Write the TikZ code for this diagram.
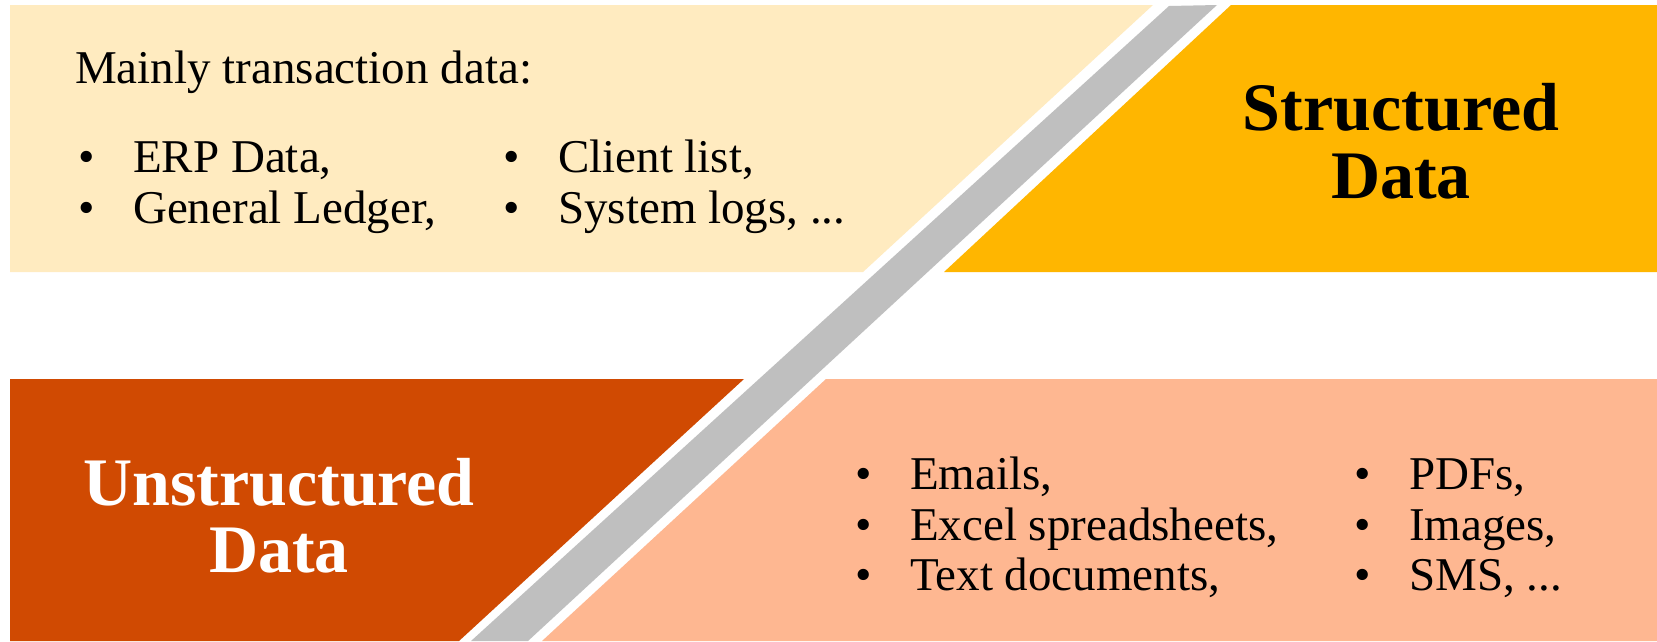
\documentclass[tikz,border=0pt]{standalone}
\usepackage{fontspec}
\setmainfont{Liberation Serif}
\definecolor{paleyellow}{HTML}{FFEBC0}
\definecolor{amber}{HTML}{FFB600}
\definecolor{rust}{HTML}{D04A02}
\definecolor{salmon}{HTML}{FEB791}
\definecolor{band}{HTML}{BFBFBF}
\tikzset{
  item/.style={anchor=base west, inner sep=0pt, font=\fontsize{47}{56}\selectfont},
  title/.style={anchor=base, inner sep=0pt, font=\fontsize{68}{80}\selectfont\bfseries}
}
\newcommand{\bul}[1]{\makebox[55pt][l]{\textbullet}#1}
\begin{document}
\begin{tikzpicture}[x=1pt,y=-1pt]
\useasboundingbox [fill=white] (0,0) rectangle (1657,641);
% upper half
\fill [paleyellow] (10,5) -- (1153,5) -- (863,272) -- (10,272) -- cycle;
\fill [amber] (1231,5) -- (1657,5) -- (1657,272) -- (944,272) -- cycle;
% lower half
\fill [rust] (10,379) -- (744,379) -- (459,641) -- (10,641) -- cycle;
\fill [salmon] (826,379) -- (1657,379) -- (1657,641) -- (542,641) -- cycle;
% diagonal divider
\fill [band] (1169,6) coordinate (b_1) -- (1217,5) coordinate (b_2)
  -- (528,641) coordinate (b_3) -- (471,641) coordinate (b_4) -- cycle;
% structured side
\node (s_head) [item] at (75,83) {Mainly transaction data:};
\node (s_1) [item] at (78,172) {\bul{ERP Data,}};
\node (s_2) [item] at (78,223) {\bul{General Ledger,}};
\node (s_3) [item] at (503,172) {\bul{Client list,}};
\node (s_4) [item] at (503,223) {\bul{System logs, ...}};
\node (s_title) [title] at (1401,130) {Structured};
\node (s_data) [title] at (1401,198) {Data};
% unstructured side
\node (u_title) [title, text=white] at (279,505) {Unstructured};
\node (u_data) [title, text=white] at (279,572) {Data};
\node (u_1) [item] at (855,489) {\bul{Emails,}};
\node (u_2) [item] at (855,540) {\bul{Excel spreadsheets,}};
\node (u_3) [item] at (855,590) {\bul{Text documents,}};
\node (u_4) [item] at (1354,489) {\bul{PDFs,}};
\node (u_5) [item] at (1354,540) {\bul{Images,}};
\node (u_6) [item] at (1354,590) {\bul{SMS, ...}};
\end{tikzpicture}
\end{document}
